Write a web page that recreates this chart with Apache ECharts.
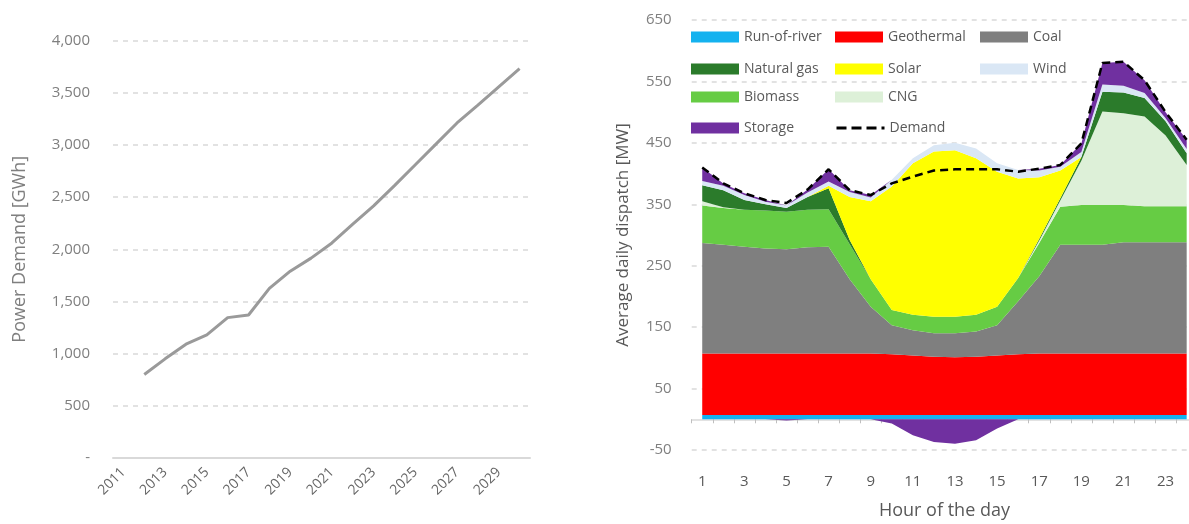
<!DOCTYPE html>
<html>
<head>
<meta charset="utf-8">
<title>Power demand and daily dispatch</title>
<script src="https://cdn.jsdelivr.net/npm/echarts@6/dist/echarts.min.js"></script>
<style>
  html, body { margin: 0; padding: 0; background: #fff; }
  #chart { width: 1189px; height: 524px; }
</style>
</head>
<body>
<div id="chart"></div>
<script>
// left panel: yearly power demand
const years = ['2011', '2012', '2013', '2014', '2015', '2016', '2017', '2018', '2019', '2020',
  '2021', '2022', '2023', '2024', '2025', '2026', '2027', '2028', '2029', '2030'];
const powerDemand = [null, 800, 950, 1090, 1180, 1345, 1370, 1625, 1790, 1915,
  2060, 2240, 2415, 2610, 2810, 3010, 3210, 3380, 3555, 3730];
const demandTicks = [0, 500, 1000, 1500, 2000, 2500, 3000, 3500, 4000];

// right panel: average daily dispatch per hour (MW)
const hours = ['1', '2', '3', '4', '5', '6', '7', '8', '9', '10', '11', '12',
  '13', '14', '15', '16', '17', '18', '19', '20', '21', '22', '23', '24'];
const runOfRiver = [7, 7, 7, 7, 7, 7, 7, 7, 7, 7, 7, 7, 7, 7, 7, 7, 7, 7, 7, 7, 7, 7, 7, 7];
const geothermal = [100, 100, 100, 100, 100, 100, 100, 100, 100, 99, 97, 95, 94, 95, 97, 99, 100, 100, 100, 100, 100, 100, 100, 100];
const coal = [180, 177, 174, 171, 170, 173, 174, 121, 76, 47, 41, 38, 39, 41, 49, 86, 126, 177, 177, 177, 181, 181, 181, 181];
const biomass = [61, 60, 60, 62, 61, 61, 61, 57, 45, 25, 25, 27, 27, 27, 30, 38, 54, 62, 65, 65, 61, 59, 59, 59];
const cng = [7, 1, 0, 0, 0, 0, 0, 0, 0, 0, 0, 0, 0, 0, 0, 0, 4, 10, 72, 152, 149, 146, 115, 67];
const naturalGas = [26, 28, 16, 10, 6, 21, 34, 7, 0, 0, 0, 0, 0, 0, 0, 0, 3, 4, 6, 32, 34, 30, 23, 19];
const solar = [0, 0, 0, 0, 0, 0, 4, 70, 127, 201, 247, 269, 271, 255, 220, 162, 100, 45, 0, 0, 0, 0, 0, 0];
const wind = [7, 7, 8, 4, 4, 7, 7, 8, 6, 11, 8, 10, 12, 16, 14, 14, 11, 6, 8, 12, 11, 8, 5, 7];
const storage = [22, 4, 3, 3, -2, 5, 20, 3, 4, -7, -26, -37, -40, -34, -15, 0, 3, 3, 14, 35, 39, 21, 10, 15];
const hourlyDemand = [410, 384, 368, 357, 352, 374, 407, 373, 365, 384, 395, 405, 407, 407, 407, 403, 408, 414, 449, 580, 582, 552, 500, 455];
const dispatchTicks = [-50, 50, 150, 250, 350, 450, 550, 650];

const grayText = '#7f7f7f';
const darkText = '#595959';
const gridLine = { color: '#d9d9d9', width: 1.5, type: [5, 5] };
const font = '"Open Sans", Lato, sans-serif';

// stacking order, bottom to top
const layers = [
  { name: 'Run-of-river', data: runOfRiver, color: '#14b2ef' },
  { name: 'Geothermal', data: geothermal, color: '#ff0000' },
  { name: 'Coal', data: coal, color: '#7f7f7f' },
  { name: 'Biomass', data: biomass, color: '#66cc44' },
  { name: 'CNG', data: cng, color: '#ddf0d8' },
  { name: 'Natural gas', data: naturalGas, color: '#2b7b2b' },
  { name: 'Solar', data: solar, color: '#ffff00' },
  { name: 'Wind', data: wind, color: '#dae7f5' },
  { name: 'Storage', data: storage.map(v => Math.max(v, 0)), color: '#7030a0' }
];

const areaSeries = layers.map(l => ({
  name: l.name,
  type: 'line',
  stack: 'dispatch',
  xAxisIndex: 1,
  yAxisIndex: 1,
  data: l.data,
  symbol: 'none',
  lineStyle: { width: 0 },
  itemStyle: { color: l.color },
  areaStyle: { color: l.color, opacity: 1 },
  emphasis: { disabled: true }
}));

// charging shows below zero, kept out of the positive stack
areaSeries.push({
  name: 'Storage',
  type: 'line',
  xAxisIndex: 1,
  yAxisIndex: 1,
  data: storage.map(v => Math.min(v, 0)),
  symbol: 'none',
  lineStyle: { width: 0 },
  itemStyle: { color: '#7030a0' },
  areaStyle: { color: '#7030a0', opacity: 1 },
  emphasis: { disabled: true }
});

// legend grid: name, column, row
const legendSlots = [
  ['Run-of-river', 0, 0], ['Geothermal', 1, 0], ['Coal', 2, 0],
  ['Natural gas', 0, 1], ['Solar', 1, 1], ['Wind', 2, 1],
  ['Biomass', 0, 2], ['CNG', 1, 2],
  ['Storage', 0, 3], ['Demand', 1, 3]
];
const legendCols = [691, 835, 980];
const legendRows = [30, 62, 90, 121];

const legends = legendSlots.map(([name, c, r]) => ({
  left: legendCols[c],
  top: legendRows[r],
  padding: 0,
  itemWidth: 48,
  itemHeight: 11,
  selectedMode: false,
  data: [name === 'Demand'
    ? { name, itemStyle: { opacity: 0 }, lineStyle: { width: 3, type: [10, 5] } }
    : { name, icon: 'rect' }],
  textStyle: { color: darkText, fontSize: 14, fontFamily: font }
}));

const chart = echarts.init(document.getElementById('chart'));

chart.setOption({
  animation: false,
  textStyle: { fontFamily: font },
  legend: legends,
  grid: [
    { left: 113, top: 40.5, width: 417, height: 417.5, outerBoundsMode: 'none' },
    { left: 691.7, top: 20, width: 505.5, height: 430, outerBoundsMode: 'none' }
  ],
  xAxis: [
    {
      type: 'category',
      gridIndex: 0,
      data: years,
      boundaryGap: true,
      axisLine: { lineStyle: { color: '#d9d9d9', width: 2 } },
      axisTick: { show: false },
      axisLabel: {
        rotate: 45, interval: 1, margin: 12,
        color: '#666666', fontSize: 14, fontFamily: font
      }
    },
    {
      type: 'category',
      gridIndex: 1,
      data: hours,
      boundaryGap: true,
      axisLine: { onZero: true, lineStyle: { color: '#d9d9d9', width: 1.5 } },
      axisTick: { show: true, interval: 0, length: 4, lineStyle: { color: '#bfbfbf' } },
      axisLabel: { interval: 1, margin: 24, color: darkText, fontSize: 15, fontFamily: font },
      name: 'Hour of the day',
      nameLocation: 'middle',
      nameGap: 52,
      nameMoveOverlap: false,
      nameTextStyle: { color: darkText, fontSize: 18, fontFamily: font }
    }
  ],
  yAxis: [
    {
      type: 'value',
      gridIndex: 0,
      min: demandTicks[0],
      max: demandTicks[demandTicks.length - 1],
      interval: demandTicks[1] - demandTicks[0],
      axisLine: { show: false },
      axisTick: { show: false },
      splitLine: { lineStyle: gridLine },
      axisLabel: {
        margin: 23, color: grayText, fontSize: 15, fontFamily: font,
        formatter: v => v === 0 ? '-' : v.toLocaleString('en-US')
      },
      name: 'Power Demand [GWh]',
      nameLocation: 'middle',
      nameGap: 84,
      nameTextStyle: { color: grayText, fontSize: 18, fontFamily: font }
    },
    {
      type: 'value',
      gridIndex: 1,
      min: dispatchTicks[0],
      max: dispatchTicks[dispatchTicks.length - 1],
      interval: dispatchTicks[1] - dispatchTicks[0],
      axisLine: { show: false },
      axisTick: { show: false },
      splitLine: { lineStyle: gridLine },
      axisLabel: { margin: 20, color: grayText, fontSize: 15, fontFamily: font },
      name: 'Average daily dispatch [MW]',
      nameLocation: 'middle',
      nameGap: 60,
      nameTextStyle: { color: darkText, fontSize: 17, fontFamily: font }
    }
  ],
  series: [
    {
      name: 'Power Demand',
      type: 'line',
      xAxisIndex: 0,
      yAxisIndex: 0,
      data: powerDemand,
      symbol: 'none',
      lineStyle: { color: '#9a9a9a', width: 3 },
      itemStyle: { color: '#9a9a9a' }
    },
    ...areaSeries,
    {
      name: 'Demand',
      type: 'line',
      xAxisIndex: 1,
      yAxisIndex: 1,
      data: hourlyDemand,
      symbol: 'none',
      z: 5,
      lineStyle: { color: '#000', width: 2.5, type: [8, 5] },
      itemStyle: { color: '#000' }
    }
  ]
});

window.addEventListener('resize', () => chart.resize());
</script>
</body>
</html>
